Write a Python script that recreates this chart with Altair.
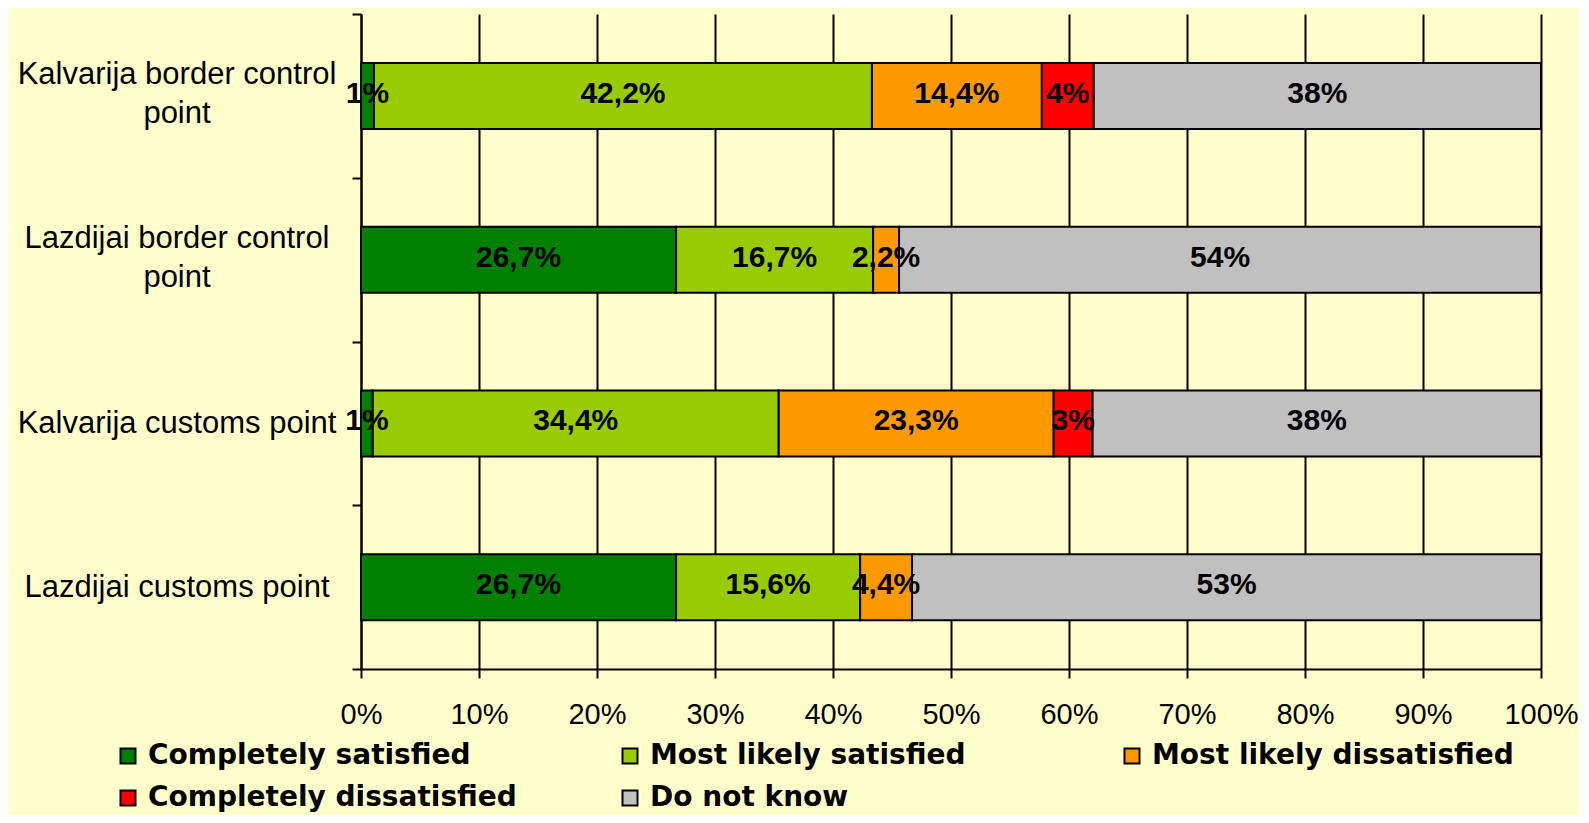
import altair as alt
import pandas as pd

points = [
    "Kalvarija border control point",
    "Lazdijai border control point",
    "Kalvarija customs point",
    "Lazdijai customs point",
]
categories = [
    "Completely satisfied",
    "Most likely satisfied",
    "Most likely dissatisfied",
    "Completely dissatisfied",
    "Do not know",
]
colors = ["#008000", "#99CC00", "#FF9900", "#FF0000", "#C0C0C0"]

completely_satisfied = [1.1, 26.7, 1.0, 26.7]
most_likely_satisfied = [42.2, 16.7, 34.4, 15.6]
most_likely_dissatisfied = [14.4, 2.2, 23.3, 4.4]
completely_dissatisfied = [4.4, 0.0, 3.3, 0.0]
do_not_know = [37.9, 54.4, 38.0, 53.3]

labels_cs = ["1%", "26,7%", "1%", "26,7%"]
labels_mls = ["42,2%", "16,7%", "34,4%", "15,6%"]
labels_mld = ["14,4%", "2,2%", "23,3%", "4,4%"]
labels_cd = ["4%", "", "3%", ""]
labels_dnk = ["38%", "54%", "38%", "53%"]

series = [completely_satisfied, most_likely_satisfied, most_likely_dissatisfied,
          completely_dissatisfied, do_not_know]
labels = [labels_cs, labels_mls, labels_mld, labels_cd, labels_dnk]

rows = []
for ci, (cat, vals, labs) in enumerate(zip(categories, series, labels)):
    for pi, p in enumerate(points):
        if vals[pi] > 0:
            rows.append({"point": p, "category": cat, "order": ci,
                         "value": vals[pi], "label": labs[pi]})
df = pd.DataFrame(rows)
points_df = pd.DataFrame({"point": points})

FONT = "Liberation Sans"
LEGEND_FONT = "DejaVu Sans"

base = alt.Chart(df).transform_stack(
    stack="value",
    groupby=["point"],
    as_=["v0", "v1"],
    offset="normalize",
    sort=[alt.SortField("order", order="ascending")],
).transform_calculate(mid="(datum.v0 + datum.v1) / 2")

y_axis = alt.Axis(
    title=None,
    tickBand="extent",
    domainColor="black",
    domainWidth=2,
    tickColor="black",
    tickWidth=2,
    tickSize=9,
    labels=False,
)
y_enc = alt.Y(
    "point:N",
    sort=points,
    scale=alt.Scale(paddingInner=0, paddingOuter=0),
    axis=y_axis,
)

x_axis = alt.Axis(
    title=None,
    format="%",
    values=[0, 0.1, 0.2, 0.3, 0.4, 0.5, 0.6, 0.7, 0.8, 0.9, 1.0],
    grid=True,
    gridColor="black",
    gridWidth=2,
    gridOpacity=1,
    domainColor="black",
    domainWidth=2,
    tickColor="black",
    tickWidth=2,
    tickSize=9,
    labelFont=FONT,
    labelFontSize=29,
    labelColor="black",
    labelPadding=22,
    labelFlush=False,
)

bars = base.mark_bar(stroke="black", strokeWidth=2, opacity=1, size=66).encode(
    x=alt.X("v0:Q", scale=alt.Scale(domain=[0, 1], nice=False), axis=x_axis),
    x2="v1:Q",
    y=y_enc,
    color=alt.Color(
        "category:N",
        scale=alt.Scale(domain=categories, range=colors),
        legend=alt.Legend(
            title=None,
            orient="none",
            legendX=-247,
            legendY=728,
            direction="horizontal",
            columns=3,
            columnPadding=99,
            rowPadding=14,
            gridAlign="all",
            padding=0,
            symbolType="square",
            symbolSize=225,
            symbolStrokeColor="black",
            symbolStrokeWidth=2,
            symbolOpacity=1,
            labelFont=LEGEND_FONT,
            labelFontSize=28,
            labelFontWeight="bold",
            labelColor="black",
            labelLimit=600,
            labelOffset=6,
        ),
    ),
)

texts = base.mark_text(
    font=FONT, fontSize=30, fontWeight="bold", color="black", baseline="middle", dy=-2
).encode(
    x=alt.X("mid:Q"),
    y=y_enc,
    text="label:N",
)

# category labels (left of the y axis), wrapped like the original
ylab_base = alt.Chart(points_df).transform_calculate(
    txt="replace(datum.point, ' control point', ' control|point')"
)
ylab_style = dict(font=FONT, fontSize=31, color="black", align="center",
                  baseline="middle", lineBreak="|", lineHeight=39.5)
ylab_multi = ylab_base.transform_filter(
    "indexof(datum.point, 'control') >= 0"
).mark_text(dy=-21, **ylab_style).encode(
    x=alt.value(-184), y=y_enc, text="txt:N"
)
ylab_single = ylab_base.transform_filter(
    "indexof(datum.point, 'control') < 0"
).mark_text(dy=1, **ylab_style).encode(
    x=alt.value(-184), y=y_enc, text="txt:N"
)

chart = (
    alt.layer(bars, texts, ylab_multi, ylab_single)
    .properties(
        width=1180,
        height=655,
        background="#FFFFCC",
        autosize=alt.AutoSizeParams(type="none"),
        padding={"left": 353, "top": 6, "right": 38, "bottom": 146},
    )
    .configure_view(stroke=None)
)

chart.save("out.html", embed_options={"renderer": "svg", "actions": False})
